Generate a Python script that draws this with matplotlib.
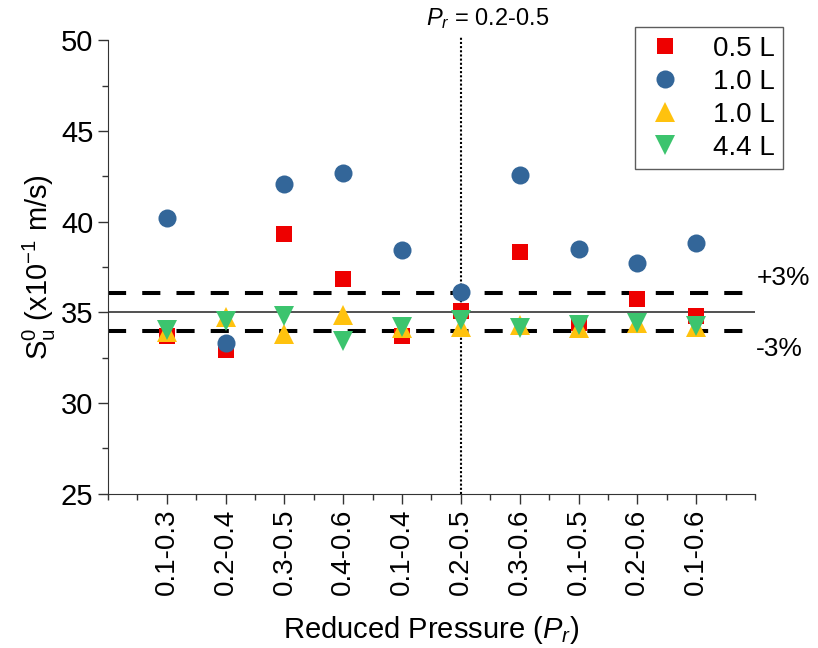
import matplotlib
matplotlib.use("Agg")
import matplotlib.pyplot as plt
from matplotlib.ticker import MultipleLocator
import numpy as np

plt.rcParams["font.family"] = ["Liberation Sans", "DejaVu Sans"]
plt.rcParams["mathtext.fontset"] = "custom"
plt.rcParams["mathtext.rm"] = "Liberation Sans"
plt.rcParams["mathtext.it"] = "Liberation Sans:italic"

# dane
categories = ["0.1-0.3", "0.2-0.4", "0.3-0.5", "0.4-0.6", "0.1-0.4",
              "0.2-0.5", "0.3-0.6", "0.1-0.5", "0.2-0.6", "0.1-0.6"]
vol_05_sq = [33.7, 32.9, 39.3, 36.85, 33.7, 35.1, 38.3, 34.4, 35.75, 34.8]
vol_10_circ = [40.2, 33.3, 42.1, 42.7, 38.45, 36.1, 42.55, 38.5, 37.7, 38.8]
vol_10_tri = [33.9, 34.75, 33.8, 34.85, 34.15, 34.2, 34.3, 34.15, 34.4, 34.2]
vol_44_tri = [34.0, 34.5, 34.8, 33.4, 34.2, 34.6, 34.15, 34.3, 34.4, 34.25]
series_labels = ["0.5 L", "1.0 L", "1.0 L", "4.4 L"]
ref_value = 35.0
tolerance = 0.03
selected_idx = 5  # 0.2-0.5

x = np.arange(1, len(categories) + 1)

fig = plt.figure(figsize=(8.18, 6.48), dpi=100)
ax = fig.add_axes([0.132, 0.238, 0.791, 0.700])

styles = [
    (vol_05_sq, "s", "#ee0000", 12),
    (vol_10_circ, "o", "#336699", 13),
    (vol_10_tri, "^", "#ffc20e", 14),
    (vol_44_tri, "v", "#3cc46e", 14),
]
for (vals, mk, col, ms), lab in zip(styles, series_labels):
    ax.plot(x, vals, linestyle="none", marker=mk, color=col,
            markersize=ms, markeredgewidth=0, label=lab, zorder=3)

ax.axhline(ref_value, color="#333333", linewidth=1.2, zorder=1)
for f in (1 + tolerance, 1 - tolerance):
    ax.axhline(ref_value * f, color="black", linewidth=2.9,
               dashes=(4.5, 4), zorder=1)

ax.axvline(x[selected_idx], color="black", linestyle=(0, (1, 1)),
           linewidth=1.5, ymin=0, ymax=1.01, clip_on=False, zorder=2)

ax.text(1.002, ref_value * (1 + tolerance) + 0.85, "+3%",
        transform=ax.get_yaxis_transform(), fontsize=19, va="center")
ax.text(1.002, ref_value * (1 - tolerance) - 0.95, "-3%",
        transform=ax.get_yaxis_transform(), fontsize=19, va="center")
ax.text(x[selected_idx] + 0.45, 50.5, r"$P_r$ = 0.2-0.5",
        fontsize=17, ha="center", va="bottom")

ax.set_xlim(0, 11)
ax.set_ylim(25, 50)
ax.set_xticks(x)
ax.set_xticklabels(categories, rotation=90, fontsize=20)
ax.xaxis.set_minor_locator(MultipleLocator(0.5))
ax.yaxis.set_major_locator(MultipleLocator(5))
ax.yaxis.set_minor_locator(MultipleLocator(2.5))
ax.tick_params(axis="y", labelsize=21)
ax.tick_params(which="major", direction="out", length=7, width=1, color="#333333")
ax.tick_params(which="minor", direction="out", length=4, width=1, color="#333333")
ax.spines["top"].set_visible(False)
ax.spines["right"].set_visible(False)
for s in ("left", "bottom"):
    ax.spines[s].set_color("#333333")

ax.set_xlabel(r"Reduced Pressure ($P_r$)", fontsize=21, labelpad=14)
ax.set_ylabel(r"$\mathregular{S_u^0}$ (x10$^{-1}$ m/s)", fontsize=21, labelpad=2)

leg = fig.legend(loc="upper left", bbox_to_anchor=(0.759, 0.979),
                 fontsize=20, frameon=True, fancybox=False,
                 handletextpad=0.9, labelspacing=0.25, borderpad=0.3,
                 handlelength=1.6)
leg.get_frame().set_edgecolor("#333333")
leg.get_frame().set_linewidth(1.0)

fig.savefig("out.png", dpi=100)
